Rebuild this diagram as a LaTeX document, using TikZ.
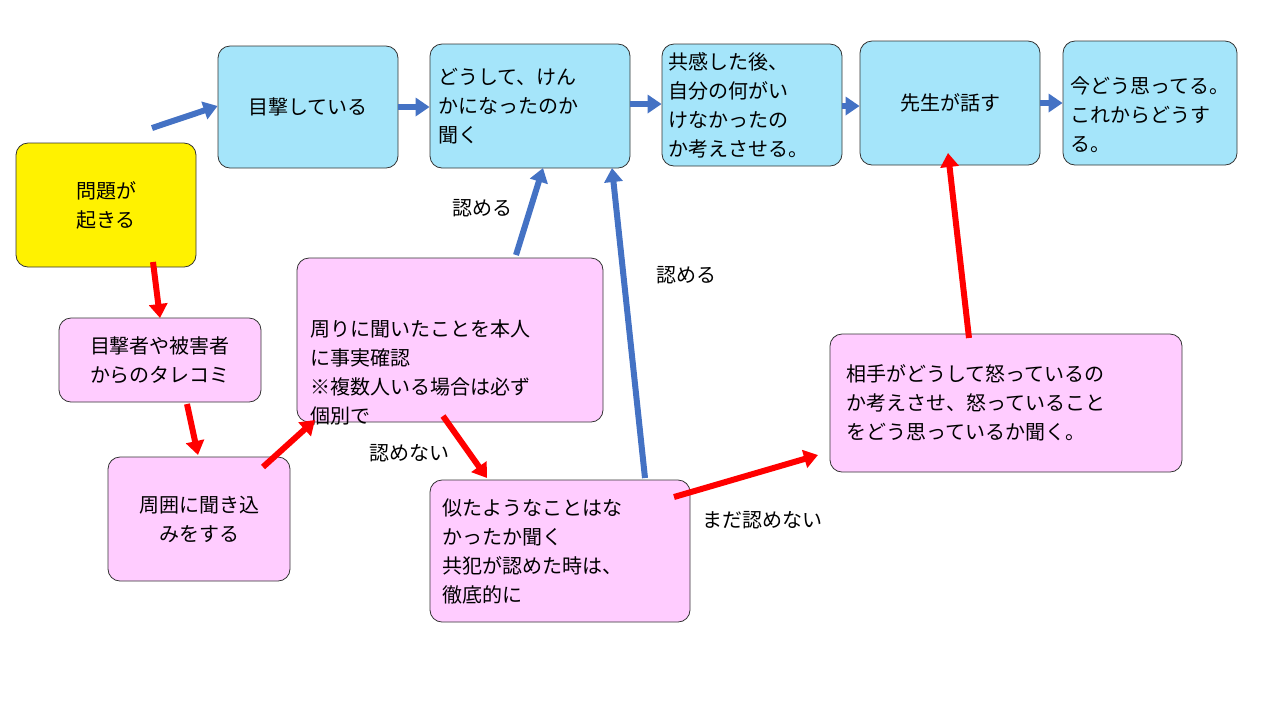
\documentclass[tikz,border=0pt]{standalone}
\usepackage{fontspec}
\setmainfont{Noto Sans CJK JP}
\usetikzlibrary{arrows.meta}
\definecolor{boxblue}{HTML}{A5E5FA}
\definecolor{boxpink}{HTML}{FFCCFF}
\definecolor{arrblue}{HTML}{4472C4}
\definecolor{arrred}{HTML}{FF0000}
\tikzset{
  box/.style={draw=black!80, rounded corners=6pt, inner sep=3pt, font=\fontsize{10}{14.5}\selectfont},
  bbox/.style={box, fill=boxblue},
  pbox/.style={box, fill=boxpink},
  ar/.style={line width=3pt, -{Triangle[length=7pt,width=9pt]}},
  bar/.style={ar, arrblue},
  rar/.style={ar, arrred},
  lbl/.style={font=\fontsize{10}{12}\selectfont}
}
\begin{document}
\begin{tikzpicture}[x=0.5pt,y=-0.5pt]
	\useasboundingbox (0,0) rectangle (1280,720);
	% top row
	\node[box, fill=yellow, minimum width=90pt, minimum height=62pt, align=center] (start) at (106,205) {問題が\\起きる};
	\node[bbox, minimum width=90pt, minimum height=61pt] (witness) at (308,107) {目撃している};
	\node[bbox, minimum width=100pt, minimum height=62pt, text width=92pt, align=left] (ask) at (530,106) {どうして、けん\\かになったのか\\聞く};
	\node[bbox, minimum width=90pt, minimum height=61pt, text width=84pt, align=left] (think) at (752,105) {共感した後、\\自分の何がい\\けなかったの\\か考えさせる。};
	\node[bbox, minimum width=90pt, minimum height=62pt] (talk) at (950,103) {先生が話す};
	\node[bbox, minimum width=87pt, minimum height=62pt, text width=80pt, align=left, text depth=18pt] (now) at (1150,103) {今どう思ってる。\\これからどうす\\る。};
	% lower boxes
	\node[pbox, minimum width=101pt, minimum height=42pt, align=center] (tip) at (160,360) {目撃者や被害者\\からのタレコミ};
	\node[pbox, minimum width=91pt, minimum height=62pt, align=center] (hear) at (199,519) {周囲に聞き込\\みをする};
	\node[pbox, minimum width=153pt, minimum height=82pt, text width=140pt, align=left, text depth=12pt] (check) at (450,340) {周りに聞いたことを本人\\に事実確認\\※複数人いる場合は必ず\\個別で};
	\node[pbox, minimum width=130pt, minimum height=71pt, text width=118pt, align=left] (similar) at (560,551) {似たようなことはな\\かったか聞く\\共犯が認めた時は、\\徹底的に};
	\node[pbox, minimum width=176pt, minimum height=69pt, text width=160pt, align=left] (other) at (1006,403) {相手がどうして怒っているの\\か考えさせ、怒っていること\\をどう思っているか聞く。};
	% free ends
	\coordinate (s1) at (152,128);
	\coordinate (s2) at (153,262);
	\coordinate (s3) at (187,404);
	\coordinate (s4) at (263,467);
	\coordinate (s5) at (443,416);
	\coordinate (s6) at (516,255);
	\coordinate (s7) at (645,478);
	\coordinate (s8) at (674,497);
	\coordinate (s9) at (969,338);
	% blue arrows
	\draw[bar] (s1) -- (witness.west |- 0,106);
	\draw[bar] (witness.east) -- (ask.west |- witness.east);
	\draw[bar] (ask.east |- 0,104) -- (think.west |- 0,104);
	\draw[bar] (think.east |- 0,106) -- (talk.west |- 0,106);
	\draw[bar] (talk.east |- 0,103) -- (now.west |- 0,103);
	\draw[bar] (s6) -- (543,168);
	\draw[bar] (s7) -- (612,168);
	% red arrows
	\draw[rar] (s2) -- (160,318);
	\draw[rar] (s3) -- (198,455);
	\draw[rar] (s4) -- (315,420);
	\draw[rar] (s5) -- (487,478);
	\draw[rar] (s8) -- (818,455);
	\draw[rar] (s9) -- (948,153);
	% labels
	\node[lbl] (l1) at (482,208) {認める};
	\node[lbl] (l2) at (686,275) {認める};
	\node[lbl] (l3) at (409,453) {認めない};
	\node[lbl] (l4) at (762,520) {まだ認めない};
\end{tikzpicture}
\end{document}
